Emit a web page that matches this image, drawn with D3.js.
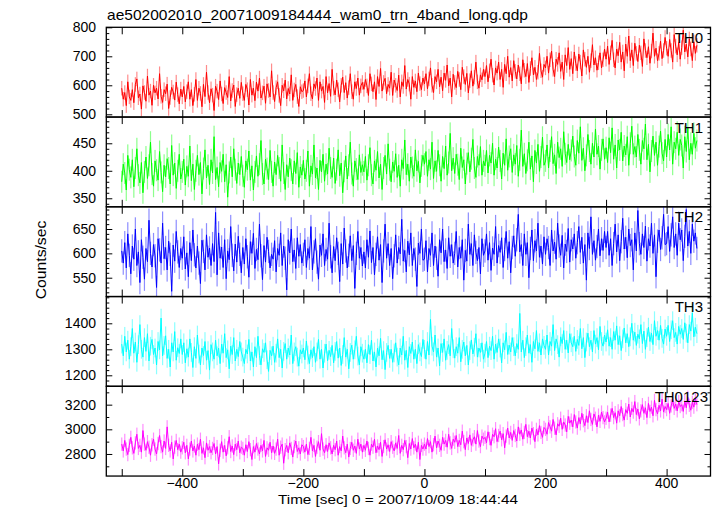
<!DOCTYPE html>
<html><head><meta charset="utf-8">
<script src="https://cdn.jsdelivr.net/npm/d3@7"></script>
<style>body{margin:0;background:#fff}svg{display:block}</style>
</head><body>
<script>
// ---- data (2.5 s samples, t = -500 ... 450 s) ----
const tStart = -500, tStep = 2.5;
const th0 = [
590,552,575,530,612,560,548,585,540,603,622,557,570,518,598,575,545,632,566,580,
531,600,574,590,553,640,562,541,585,571,604,520,558,593,577,549,611,568,536,587,
560,596,543,578,612,552,585,530,569,620,548,590,572,526,603,561,645,575,540,588,
566,513,597,580,551,615,570,537,592,575,558,630,546,582,601,527,568,590,555,610,
571,548,603,585,532,620,566,590,547,611,580,625,556,574,597,538,605,582,560,650,
575,544,592,612,565,530,600,581,618,553,589,570,636,548,584,603,561,527,595,578,
582,615,560,598,640,571,553,605,589,625,548,612,580,596,541,630,574,606,562,655,
590,567,618,585,543,600,628,575,609,556,592,640,578,552,612,589,625,566,598,610,
586,620,598,565,640,605,578,612,551,630,596,658,580,610,624,571,603,590,645,565,
618,600,582,635,560,612,596,668,587,620,604,552,630,593,615,578,642,606,585,625,
605,640,588,622,660,600,575,630,612,655,595,628,581,642,617,670,598,625,560,638,
610,592,648,620,585,662,630,603,641,574,616,650,597,628,680,612,590,636,619,655,
630,668,612,650,690,635,601,660,642,680,620,655,593,672,640,700,628,661,615,685,
648,622,670,640,605,688,652,630,675,610,658,695,636,662,620,645,710,650,628,672,
660,700,642,688,718,655,630,690,672,712,648,680,620,705,668,730,655,692,640,715,
675,650,708,680,632,722,690,662,700,645,685,740,670,695,652,678,712,660,688,725,
690,735,672,712,755,688,660,725,702,748,680,715,650,742,700,770,685,722,668,745,
710,682,738,712,665,760,720,695,733,676,718,780,700,728,685,710,752,692,720,765,
728,700,758,720,680,775,735,705,748,690,730,790,715,742,698,760,725,685,750,710,738];
const th1 = [
380,412,396,365,428,402,388,420,371,405,440,392,378,415,360,398,425,386,410,452,
394,372,418,401,383,435,397,362,410,389,422,405,376,446,392,414,368,400,430,385,
398,421,374,408,390,445,382,412,366,400,428,393,415,358,404,438,387,410,375,420,
396,462,384,406,371,415,399,430,380,411,352,397,425,389,440,402,377,414,393,426,
391,370,418,402,436,383,409,365,398,427,390,412,455,394,376,421,404,384,437,398,
372,416,393,428,405,381,447,396,366,411,389,423,401,376,418,395,433,370,407,392,
419,385,400,436,372,409,394,447,387,405,366,419,398,430,381,412,394,441,405,388,
423,377,402,438,391,414,360,399,427,385,410,452,395,372,418,403,384,429,397,411,
398,426,383,410,442,392,376,418,401,435,387,412,366,405,428,394,449,402,380,416,
399,431,388,410,372,420,404,456,393,412,381,425,406,390,438,400,417,378,409,428,
412,435,390,420,403,452,386,418,399,437,410,381,426,404,445,392,415,468,400,423,
395,430,411,384,441,406,420,376,413,433,398,422,457,405,388,426,410,444,392,418,
409,437,396,428,414,450,392,421,405,443,418,385,432,410,458,401,426,440,397,429,
412,446,390,420,474,408,431,395,419,452,403,427,380,437,414,448,399,425,461,410,
418,447,405,436,462,413,429,395,452,424,440,408,471,431,415,448,420,437,463,426,
410,455,432,480,419,441,400,428,466,436,412,450,425,476,430,445,403,438,458,421,
442,415,460,433,478,421,447,405,456,438,470,418,445,429,462,410,450,481,430,444,
425,466,438,412,455,440,485,420,448,398,436,463,428,452,410,444,472,432,418,457,
425,466,438,480,412,452,440,470,428,457,446,405,462,435,478,420,450,430,468,441,455];
const th2 = [
605,580,622,570,640,596,558,615,588,650,575,603,540,628,592,547,610,583,668,600,
572,618,595,530,630,607,580,662,589,612,566,625,598,522,617,584,645,603,571,610,
590,634,568,601,552,622,585,648,597,570,615,580,538,627,604,566,638,592,611,575,
620,583,684,556,642,590,613,571,628,548,605,587,655,596,564,619,582,635,598,560,
612,578,630,593,551,624,600,641,569,608,587,660,595,546,616,582,633,604,570,598,
588,626,562,610,596,642,575,615,590,525,628,601,650,583,607,569,632,594,618,580,
598,628,571,610,590,655,566,603,630,582,547,617,596,640,575,608,588,662,593,560,
614,585,632,600,542,620,578,652,605,570,596,636,585,616,528,600,645,590,612,574,
603,570,628,592,646,581,612,556,598,634,586,618,540,605,660,590,620,575,610,548,
595,638,580,612,599,670,584,606,562,625,597,642,575,610,588,532,621,600,650,586,
588,626,562,610,596,642,575,615,590,553,628,601,650,583,607,569,632,594,618,580,
600,645,572,612,590,628,545,606,584,660,598,620,575,638,602,585,612,558,630,596,
605,640,586,622,565,611,598,655,580,616,602,632,571,608,645,590,624,560,612,636,
594,628,680,603,618,575,640,598,622,550,610,648,585,626,605,662,592,615,578,634,
598,630,612,575,648,605,623,588,662,615,596,637,570,619,604,651,582,628,609,640,
590,622,655,602,633,580,618,545,642,610,675,598,626,586,614,650,595,630,606,645,
612,645,596,630,575,620,660,603,638,585,624,672,609,633,591,650,616,628,566,642,
605,688,620,598,640,612,656,584,630,615,662,600,638,552,625,648,608,632,680,618,
620,655,604,638,675,612,640,596,662,628,648,585,635,690,615,645,600,660,625,642,610];
const th3 = [
1320,1275,1350,1290,1335,1262,1310,1380,1285,1328,1250,1318,1395,1300,1270,1345,1292,1360,1255,1312,
1338,1280,1305,1240,1330,1298,1420,1275,1315,1352,1265,1300,1232,1325,1290,1368,1258,1306,1284,1340,
1280,1325,1248,1302,1270,1340,1288,1230,1310,1265,1355,1282,1240,1305,1276,1330,1258,1295,1220,1318,
1290,1262,1335,1275,1305,1245,1320,1285,1360,1268,1298,1225,1312,1280,1345,1255,1300,1272,1330,1290,
1270,1245,1300,1282,1338,1255,1290,1232,1310,1268,1350,1276,1240,1302,1288,1325,1260,1215,1296,1275,
1312,1250,1285,1340,1268,1300,1228,1292,1322,1262,1305,1278,1355,1245,1290,1310,1270,1235,1298,1282,
1305,1260,1332,1278,1245,1298,1268,1310,1250,1290,1338,1262,1300,1228,1285,1320,1256,1296,1272,1315,
1248,1292,1330,1266,1305,1238,1280,1345,1270,1300,1225,1288,1316,1262,1298,1350,1274,1240,1310,1285,
1262,1300,1248,1318,1280,1335,1255,1290,1232,1305,1275,1342,1260,1295,1222,1288,1315,1265,1300,1250,
1286,1325,1270,1240,1305,1278,1350,1258,1296,1230,1310,1284,1328,1262,1300,1245,1318,1290,1272,1338,
1300,1262,1330,1278,1415,1312,1290,1355,1270,1305,1236,1322,1288,1340,1258,1296,1318,1275,1380,1302,
1266,1310,1285,1345,1252,1300,1328,1275,1315,1240,1295,1336,1282,1308,1360,1270,1305,1288,1325,1262,
1285,1330,1268,1312,1295,1350,1262,1320,1288,1340,1305,1248,1325,1298,1365,1280,1316,1290,1345,1310,
1275,1322,1300,1438,1290,1335,1268,1310,1355,1285,1318,1250,1330,1302,1372,1292,1325,1278,1340,1315,
1300,1355,1278,1330,1312,1395,1295,1340,1318,1270,1348,1322,1372,1300,1335,1286,1360,1325,1310,1350,
1292,1338,1315,1380,1302,1345,1268,1328,1362,1310,1335,1290,1372,1320,1345,1298,1388,1330,1312,1355,
1328,1375,1312,1345,1300,1368,1335,1390,1318,1352,1295,1340,1382,1325,1360,1310,1348,1400,1335,1366,
1315,1358,1340,1395,1322,1370,1300,1345,1385,1330,1362,1318,1410,1350,1372,1335,1392,1342,1320,1378,
1350,1392,1330,1375,1410,1345,1365,1320,1388,1358,1380,1338,1402,1362,1325,1395,1370,1440,1348,1385,1360];
const th0123 = [
2880,2825,2910,2840,2795,2870,2935,2850,2805,2890,2960,2845,2870,2815,2990,2880,2830,2900,2855,2790,
2875,2920,2840,2800,2885,2950,2860,2815,2905,2845,3020,2870,2825,2895,2760,2855,2910,2835,2880,2815,
2850,2895,2810,2870,2760,2840,2905,2825,2865,2790,2880,2835,2920,2805,2850,2770,2890,2830,2860,2810,
2845,2885,2800,2860,2720,2830,2900,2815,2870,2785,2850,2940,2820,2865,2795,2880,2835,2905,2810,2855,
2845,2790,2875,2820,2900,2835,2755,2860,2815,2885,2840,2800,2870,2825,2910,2780,2850,2830,2895,2810,
2865,2805,2840,2920,2790,2855,2880,2725,2835,2870,2810,2890,2845,2775,2860,2905,2820,2850,2800,2875,
2860,2815,2880,2795,2845,2935,2825,2870,2780,2855,2900,2830,2965,2840,2810,2875,2820,2890,2850,2800,
2870,2835,2905,2790,2860,2825,2945,2850,2810,2880,2775,2845,2895,2830,2865,2805,2920,2840,2880,2815,
2870,2830,2905,2845,2790,2880,2855,2920,2810,2865,2835,2895,2780,2860,2915,2840,2875,2820,2900,2855,
2825,2890,2845,2950,2805,2870,2835,2910,2860,2770,2885,2840,2925,2850,2880,2815,2895,2755,2870,2840,
2880,2840,2925,2860,2900,2815,2875,2945,2850,2905,2870,2830,2935,2880,2910,2855,2960,2890,2845,2920,
2895,2950,2860,2910,2875,2985,2900,2835,2930,2885,2955,2870,2915,2940,2880,2990,2905,2860,2945,2920,
2935,2890,2980,2925,2870,2960,2940,3005,2900,2950,2985,2915,2965,2850,2945,3010,2930,2975,2910,2990,
2950,2905,3020,2960,2995,2920,2975,3040,2940,2985,2930,3010,2965,2900,3000,2955,3030,2975,2935,3015,
3000,2960,3055,3020,2985,3080,3010,2955,3045,3025,3090,3000,3060,3035,2980,3105,3050,3075,3020,3120,
3060,3010,3095,3045,3130,3070,3030,3110,3055,3150,3080,3040,3125,3090,3020,3115,3065,3140,3095,3060,
3090,3140,3060,3115,3170,3095,3135,3050,3150,3110,3185,3120,3075,3160,3130,3205,3100,3170,3140,3225,
3120,3165,3085,3150,3200,3130,3175,3095,3210,3145,3180,3110,3235,3160,3125,3195,3150,3245,3140,3185,
3160,3210,3130,3190,3240,3170,3205,3150,3225,3185,3200,3145,3230,3175,3260,3195,3155,3220,3180,3250,3200];

const bandNames = ["TH0","TH1","TH2","TH3","TH0123"];
const bandColors = ["#ff0000","#00ff00","#0000ff","#00ffff","#ff00ff"];
const bandErrors = [25,20,24,36,54];
const yDomains = [[490.5,800],[334.5,497.7],[511.3,695.6],[1157.7,1502.9],[2621,3349]];
const yMajorTicks = [[500,600,700,800],[350,400,450],[550,600,650],[1200,1300,1400],[2800,3000,3200]];
const yMinorSteps = [20,10,10,20,100];
const xDomain = [-525.5,472.5];
const xTicks = [-500,-400,-300,-200,-100,0,100,200,300,400];
const xTickLabels = [-400,-200,0,200,400];
const titleText = "ae502002010_20071009184444_wam0_trn_4band_long.qdp";
const xTitle = "Time [sec] 0 = 2007/10/09 18:44:44";
const yTitle = "Counts/sec";

const series = [th0, th1, th2, th3, th0123];

// ---- layout ----
const W = 717, H = 516;
const pLeft = 106.3, pRight = 710.5, pTop = 27.3, pBottom = 476.05;
const ph = (pBottom - pTop) / series.length;
const FONT = "'Liberation Sans', Arial, Helvetica, sans-serif";

const svg = d3.select("body").append("svg").attr("width", W).attr("height", H)
  .style("font-family", FONT);

const x = d3.scaleLinear().domain(xDomain).range([pLeft, pRight]);
const defs = svg.append("defs");

series.forEach((vals, k) => {
  const y0 = pTop + k * ph, y1 = y0 + ph;
  const y = d3.scaleLinear().domain(yDomains[k]).range([y1, y0]);
  const col = bandColors[k], err = bandErrors[k];
  const data = vals.map((v, i) => ({ t: tStart + i * tStep, v }));

  defs.append("clipPath").attr("id", "clip" + k)
    .append("rect").attr("x", pLeft).attr("y", y0).attr("width", pRight - pLeft).attr("height", ph);

  const g = svg.append("g").attr("clip-path", `url(#clip${k})`);
  g.append("g").selectAll("rect").data(data).join("rect")
    .attr("x", d => x(d.t) - 0.6)
    .attr("width", 1.2)
    .attr("y", d => y(d.v + err))
    .attr("height", d => y(d.v - err) - y(d.v + err))
    .attr("fill", col).attr("opacity", 0.45);
  g.append("path").datum(data)
    .attr("d", d3.line().x(d => x(d.t)).y(d => y(d.v)))
    .attr("fill", "none").attr("stroke", col).attr("stroke-width", 1);

  // y ticks (inward, both sides)
  const d0 = yDomains[k][0], d1 = yDomains[k][1], ms = yMinorSteps[k];
  const minor = d3.range(Math.ceil(d0 / ms) * ms, d1 + 1e-9, ms)
    .filter(v => !yMajorTicks[k].includes(v));
  [[d3.axisRight, pLeft], [d3.axisLeft, pRight]].forEach(([fn, px]) => {
    svg.append("g").attr("transform", `translate(${px},0)`)
      .call(fn(y).tickValues(yMajorTicks[k]).tickSize(6).tickSizeOuter(0).tickFormat(""))
      .call(a => a.select(".domain").remove())
      .call(a => a.selectAll("line").attr("stroke", "#000"));
    svg.append("g").attr("transform", `translate(${px},0)`)
      .call(fn(y).tickValues(minor).tickSize(3).tickSizeOuter(0).tickFormat(""))
      .call(a => a.select(".domain").remove())
      .call(a => a.selectAll("line").attr("stroke", "#000"));
  });
  // x ticks (inward, top and bottom of each panel)
  svg.append("g").attr("transform", `translate(0,${y0})`)
    .call(d3.axisBottom(x).tickValues(xTicks).tickSize(7).tickSizeOuter(0).tickFormat(""))
    .call(a => a.select(".domain").remove())
    .call(a => a.selectAll("line").attr("stroke", "#000"));
  svg.append("g").attr("transform", `translate(0,${y1})`)
    .call(d3.axisTop(x).tickValues(xTicks).tickSize(7).tickSizeOuter(0).tickFormat(""))
    .call(a => a.select(".domain").remove())
    .call(a => a.selectAll("line").attr("stroke", "#000"));

  // y tick labels
  svg.append("g").selectAll("text").data(yMajorTicks[k]).join("text")
    .attr("x", 96).attr("y", v => y(v) + 5)
    .attr("text-anchor", "end").attr("font-size", 14).attr("fill", "#000")
    .text(v => d3.format("")(v));

  // band label
  svg.append("text").attr("x", k === 4 ? 708 : 703).attr("y", y0 + 15.6)
    .attr("text-anchor", "end").attr("font-size", 15).attr("fill", "#000")
    .text(bandNames[k]);

  // panel border
  svg.append("rect").attr("x", pLeft).attr("y", y0).attr("width", pRight - pLeft).attr("height", ph)
    .attr("fill", "none").attr("stroke", "#000").attr("stroke-width", 1.3);
});

// x tick labels
svg.append("g").selectAll("text").data(xTickLabels).join("text")
  .attr("x", v => x(v)).attr("y", 488)
  .attr("text-anchor", "middle").attr("font-size", 14).attr("fill", "#000")
  .text(v => d3.format("")(v));

// titles
svg.append("text").attr("x", 107).attr("y", 19.5).attr("font-size", 15)
  .attr("textLength", 421).attr("lengthAdjust", "spacingAndGlyphs").text(titleText);
svg.append("text").attr("x", 278).attr("y", 503.5).attr("font-size", 13.5)
  .attr("textLength", 240).attr("lengthAdjust", "spacingAndGlyphs").text(xTitle);
svg.append("text").attr("transform", "translate(45.5,260) rotate(-90)")
  .attr("text-anchor", "middle").attr("font-size", 15.5)
  .attr("textLength", 78.7).attr("lengthAdjust", "spacingAndGlyphs").text(yTitle);
</script>
</body></html>
